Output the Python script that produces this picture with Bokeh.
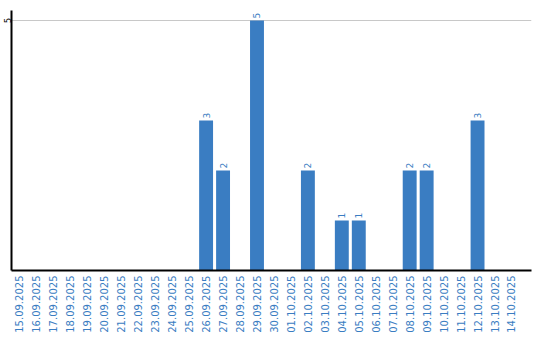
import math
from bokeh.plotting import figure
from bokeh.models import ColumnDataSource, FixedTicker, Range1d
from bokeh.core.properties import value
from bokeh.embed import file_html
from bokeh.resources import INLINE

dates = ["15.09.2025", "16.09.2025", "17.09.2025", "18.09.2025", "19.09.2025",
         "20.09.2025", "21.09.2025", "22.09.2025", "23.09.2025", "24.09.2025",
         "25.09.2025", "26.09.2025", "27.09.2025", "28.09.2025", "29.09.2025",
         "30.09.2025", "01.10.2025", "02.10.2025", "03.10.2025", "04.10.2025",
         "05.10.2025", "06.10.2025", "07.10.2025", "08.10.2025", "09.10.2025",
         "10.10.2025", "11.10.2025", "12.10.2025", "13.10.2025", "14.10.2025"]
counts = [0, 0, 0, 0, 0, 0, 0, 0, 0, 0, 0, 3, 2, 0, 5, 0, 0, 2, 0, 1, 1, 0, 0, 2, 2, 0, 0, 3, 0, 0]
y_ticks = [5]

BLUE = "#3a7dc2"

idx = list(range(len(dates)))
nz = [i for i in idx if counts[i] > 0]
src = ColumnDataSource(dict(x=[i for i in nz], y=[counts[i] for i in nz],
                            lbl=[str(counts[i]) for i in nz]))

p = figure(width=540, height=340, output_backend="svg", toolbar_location=None,
           x_range=Range1d(-0.47, 30.18), y_range=Range1d(0, 5.2),
           min_border_left=10, min_border_right=9, min_border_top=10, min_border_bottom=70)
p.outline_line_color = None
p.background_fill_color = "white"
p.border_fill_color = "white"

p.vbar(x="x", top="y", bottom=0, width=0.82, source=src, fill_color=BLUE, line_color=None)
p.text(x="x", y="y", text="lbl", source=src, angle=math.pi / 2, text_align="left",
       text_baseline="middle", y_offset=-2, text_font=value("DejaVu Sans"),
       text_font_size="9px", text_color=BLUE)

p.xaxis.ticker = FixedTicker(ticks=idx)
p.xaxis.major_label_overrides = {i: d for i, d in enumerate(dates)}
p.xaxis.major_label_orientation = math.pi / 2
p.xaxis.major_label_text_font = "DejaVu Sans"
p.xaxis.major_label_text_font_size = "10px"
p.xaxis.major_label_text_color = BLUE
p.xaxis.major_tick_line_color = None
p.xaxis.minor_tick_line_color = None
p.xaxis.major_tick_out = 0
p.xaxis.major_tick_in = 0
p.xaxis.minor_tick_out = 0
p.xaxis.major_label_standoff = 5
p.xaxis.axis_line_color = "black"
p.xaxis.axis_line_width = 2

p.yaxis.ticker = FixedTicker(ticks=y_ticks)
p.yaxis.major_label_orientation = "vertical"
p.yaxis.major_label_text_font = "DejaVu Sans"
p.yaxis.major_label_text_font_size = "8px"
p.yaxis.major_label_text_color = "black"
p.yaxis.major_tick_line_color = None
p.yaxis.minor_tick_line_color = None
p.yaxis.major_tick_out = 0
p.yaxis.major_tick_in = 0
p.yaxis.minor_tick_out = 0
p.yaxis.major_label_standoff = 1
p.yaxis.axis_line_color = "black"
p.yaxis.axis_line_width = 2

p.xgrid.grid_line_color = None
p.ygrid.ticker = FixedTicker(ticks=y_ticks)
p.ygrid.grid_line_color = "#c8c8c8"

open("out.html", "w").write(file_html(p, INLINE))
